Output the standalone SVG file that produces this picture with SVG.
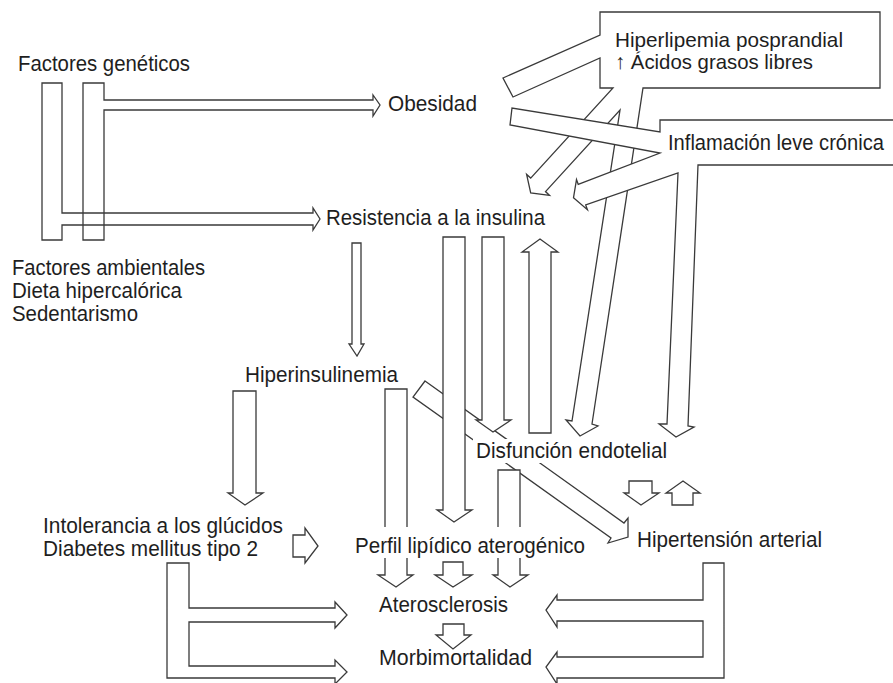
<svg xmlns="http://www.w3.org/2000/svg" width="893" height="683" viewBox="0 0 893 683">
<style>
.a{fill:#fff;stroke:#3a3a3a;stroke-width:1.3;stroke-linejoin:miter}
.o{fill:none;stroke:#3a3a3a;stroke-width:1.3;stroke-linejoin:miter}
.bg{fill:#fff;stroke:none}
text{font-family:'Liberation Sans Narrow','Liberation Sans',Arial,sans-serif;font-size:22px;fill:#1e1e1e}
.s{font-size:21px}
</style>
<rect width="893" height="683" fill="#fff"/>
<g id="connectors">
<path class="o" d="M42,83 H62 V213 H313 V208 L320,219 L313,230 V225 H62 V240 H42 Z"/>
<path class="o" d="M83,83 H104 V100 H373 V95 L380,105 L373,116 V110 H104 V240 H83 Z"/>
<path class="a" d="M352,243 H361 V344 H364 L357,356 L349,344 H352 Z"/>
<path class="a" d="M233,391 H256 V493 H263 L245,505 L228,493 H233 Z"/>
<path class="a" d="M425,381 L624,523 L628,518 L628,537 L608,543 L611,538 L413,397 Z"/>
<path class="a" d="M385,389 H407 V575 H413 L396,587 L378,575 H385 Z"/>
<path class="a" d="M443,237 H465 V510 H472 L454,522 L437,510 H443 Z"/>
<path class="a" d="M482,237 H504 V420 H511 L493,432 L476,420 H482 Z"/>
<path class="a" d="M529,433 V252 H522 L540,239 L558,252 H551 V433 Z"/>
<path class="a" d="M498,470 H520 V575 H528 L510,587 L493,575 H498 Z"/>
<path class="a" d="M443,562 H463 V575 H472 L453,587 L435,575 H443 Z"/>
<path class="a" d="M443,624 H464 V635 H471 L453,649 L436,635 H443 Z"/>
<path class="a" d="M293,535 H305 V528 L318,546 L305,563 V557 H293 Z"/>
<path class="a" d="M167,563 H189 V608 H335 V602 L347,615 L335,628 V622 H189 V666 H335 V660 L347,672 L335,684 V678 H167 Z"/>
<path class="a" d="M703,563 H724 V678 H557 V684 L546,667 L557,652 V657 H703 V621 H557 V627 L546,610 L557,595 V600 H703 Z"/>
<path class="a" d="M629,481 H652 V493 H659 L641,505 L624,493 H629 Z"/>
<path class="a" d="M672,505 V493 H666 L683,481 L700,493 H693 V505 Z"/>
<path class="a" d="M600,12 H880 V88 H643 L592,424 L598,426 L580,436 L566,420 L572,421 L620,110 L545.5,191.6 L549.5,195.3 L530.7,193 L526.6,174.4 L530.7,178.1 L613,88 H600 V58 L513,97 L503,78 L600,35 Z"/>
<path class="a" d="M660,120 H900 V165 H698 L688,426 L694,427 L676,437 L659,424 L667,424 L678,173 L585.7,205 L587.4,209.7 L573.5,197.7 L576.5,179.6 L578.2,184.3 L660,153 L510,125 L512,108 L660,132 Z"/>
</g>
<g id="n-geneticos"><text x="18" y="71" textLength="172" lengthAdjust="spacingAndGlyphs">Factores genéticos</text></g>
<g id="n-obesidad"><text x="388" y="111" textLength="89" lengthAdjust="spacingAndGlyphs">Obesidad</text></g>
<g id="n-resistencia"><text x="326" y="225" textLength="219" lengthAdjust="spacingAndGlyphs">Resistencia a la insulina</text></g>
<g id="n-ambientales">
<text x="12" y="275" textLength="193" lengthAdjust="spacingAndGlyphs">Factores ambientales</text>
<text x="12" y="298" textLength="170" lengthAdjust="spacingAndGlyphs">Dieta hipercalórica</text>
<text x="12" y="321" textLength="126" lengthAdjust="spacingAndGlyphs">Sedentarismo</text>
</g>
<g id="n-hiperinsulinemia"><text x="245" y="382" textLength="153" lengthAdjust="spacingAndGlyphs">Hiperinsulinemia</text></g>
<g id="n-intolerancia">
<text x="43" y="533" textLength="240" lengthAdjust="spacingAndGlyphs">Intolerancia a los glúcidos</text>
<text x="43" y="556" textLength="215" lengthAdjust="spacingAndGlyphs">Diabetes mellitus tipo 2</text>
</g>
<g id="n-perfil"><rect class="bg" x="352" y="527" width="236" height="31"/><text x="355" y="553" textLength="230" lengthAdjust="spacingAndGlyphs">Perfil lipídico aterogénico</text></g>
<g id="n-disfuncion"><rect class="bg" x="473" y="439" width="197" height="24"/><text x="476" y="458" textLength="191" lengthAdjust="spacingAndGlyphs">Disfunción endotelial</text></g>
<g id="n-hipertension"><text x="637" y="547" textLength="185" lengthAdjust="spacingAndGlyphs">Hipertensión arterial</text></g>
<g id="n-aterosclerosis"><text x="379" y="612" textLength="129" lengthAdjust="spacingAndGlyphs">Aterosclerosis</text></g>
<g id="n-morbimortalidad"><text x="379" y="665" textLength="153" lengthAdjust="spacingAndGlyphs">Morbimortalidad</text></g>
<g id="n-hiperlipemia">
<text class="s" x="615" y="47" textLength="228" lengthAdjust="spacingAndGlyphs">Hiperlipemia posprandial</text>
<text class="s" x="615" y="69" textLength="198" lengthAdjust="spacingAndGlyphs">↑ Ácidos grasos libres</text>
</g>
<g id="n-inflamacion"><text x="668" y="150" textLength="216" lengthAdjust="spacingAndGlyphs">Inflamación leve crónica</text></g>
</svg>
